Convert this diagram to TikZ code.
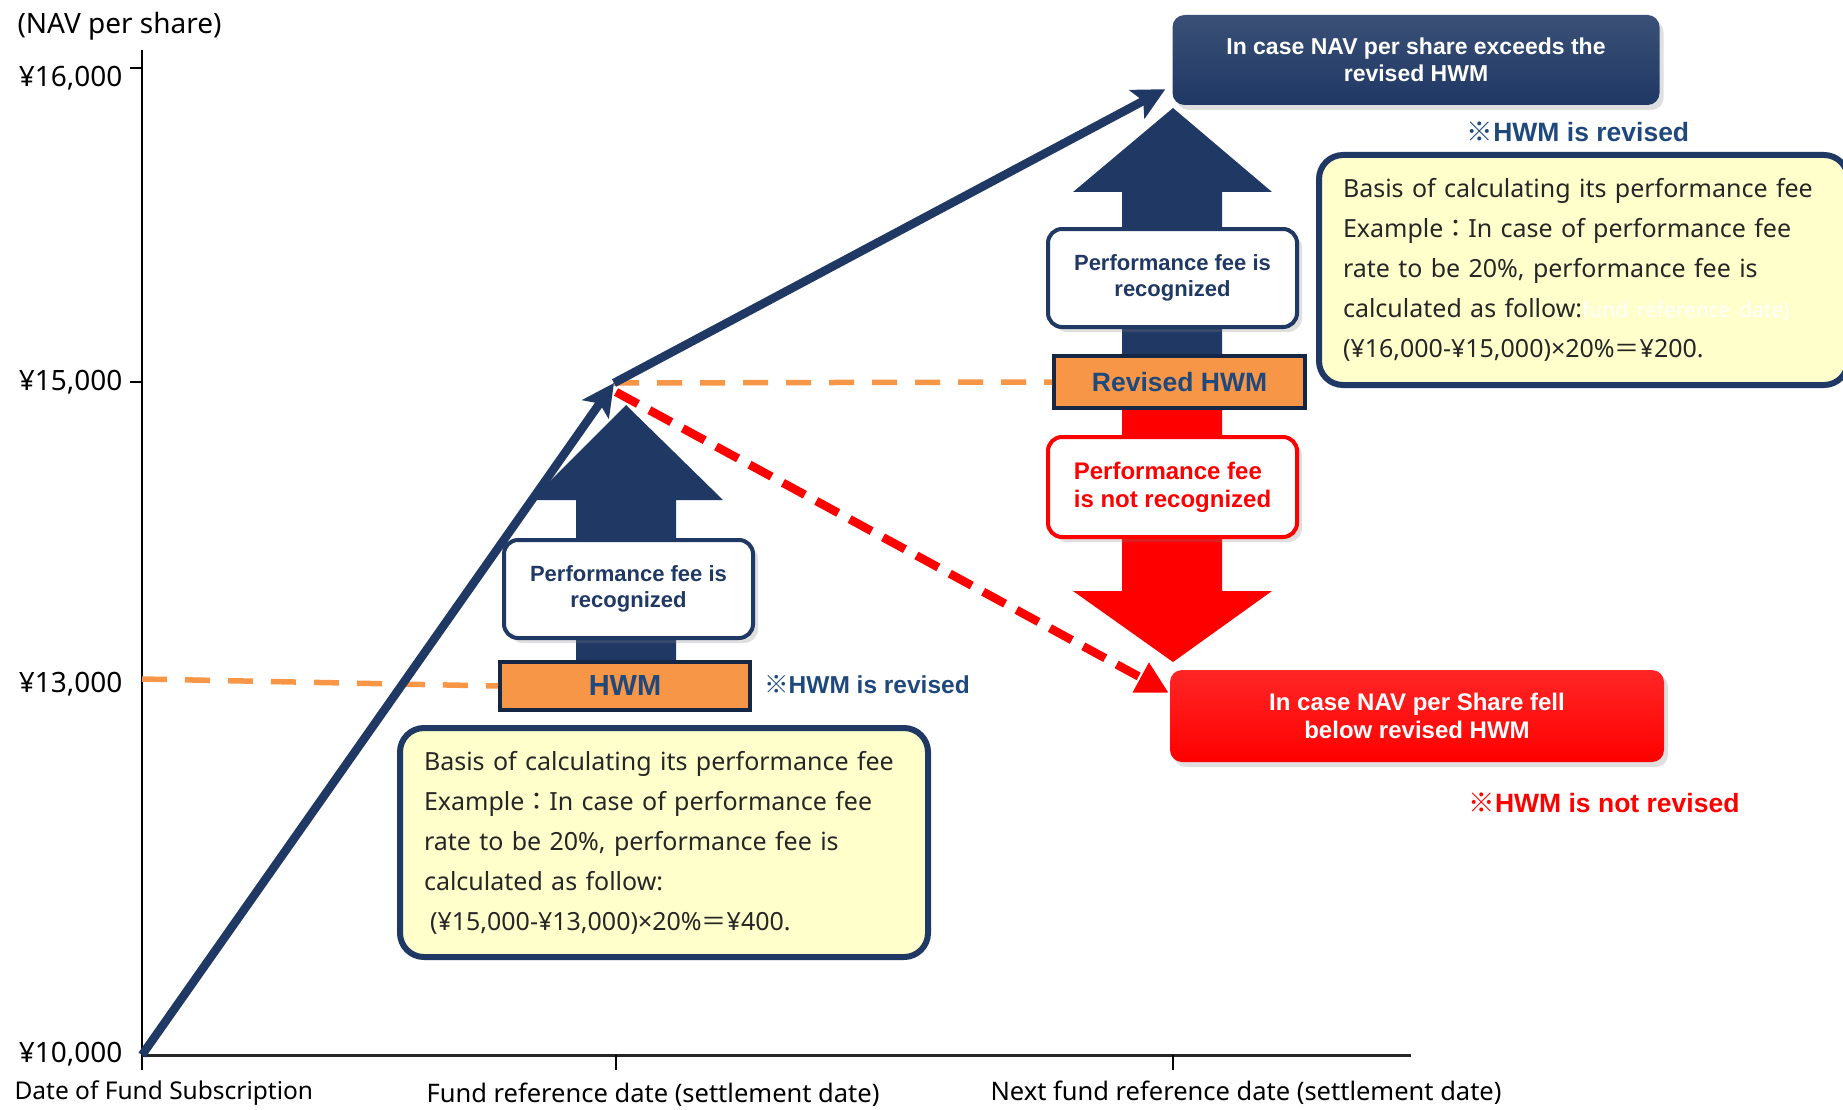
\documentclass[tikz,border=0pt]{standalone}
\usepackage{fontspec}
\setmainfont{Noto Sans}
\newfontfamily\heavy{Liberation Sans}
\newfontfamily\cjk{Noto Sans CJK JP}
\usetikzlibrary{arrows.meta,shadows}

\definecolor{navy}{HTML}{1F3864}
\definecolor{navytext}{HTML}{1F497D}
\definecolor{hwmorange}{HTML}{F79646}
\definecolor{fellred}{HTML}{FF0000}
\definecolor{memoyellow}{HTML}{FFFFCC}

\begin{document}
\begin{tikzpicture}[x=1pt, y=-1pt,
	axislabel/.style={font=\fontsize{28}{32}\selectfont},
	datelabel/.style={font=\fontsize{25.5}{30}\selectfont},
	hwmbox/.style={draw=navy!70!black, line width=4pt, fill=hwmorange, text=navytext, font=\heavy\bfseries\fontsize{29}{30}\selectfont, inner sep=0pt},
	feebox/.style={draw=#1, line width=4pt, fill=white, rounded corners=14pt, text=#1, font=\heavy\bfseries\fontsize{22}{26}\selectfont, minimum width=249pt, minimum height=98pt, inner sep=0pt, drop shadow={shadow xshift=5pt, shadow yshift=-5pt, opacity=0.25}},
	memo/.style={draw=navy, line width=6pt, fill=memoyellow, rounded corners=24pt, align=left, text=black!85, font=\fontsize{25}{40}\selectfont, inner xsep=24pt, inner ysep=0pt, anchor=north west},
	casebox/.style={rounded corners=12pt, text=white, align=center, font=\heavy\bfseries\fontsize{23}{27}\selectfont, inner sep=0pt, drop shadow={shadow xshift=4pt, shadow yshift=-5pt, opacity=0.25}},
	note/.style={font=\heavy\bfseries\fontsize{#1}{30}\selectfont, inner sep=0pt},
	navline/.style={navy, line width=8.5pt, -{Stealth[length=32pt, width=32pt, inset=7pt]}},
	hwmline/.style={hwmorange, line width=5.5pt, dash pattern=on 25pt off 18pt},
]
	\useasboundingbox (0,0) rectangle (1843,1110);

	% axes
	\coordinate (origin) at (142,1055);
	\draw[line width=2pt] (142,50) -- (142,1070);
	\draw[line width=3pt, black!85] (origin) -- (1411,1055);
	\draw[line width=2pt] (616,1055) -- (616,1070);
	\draw[line width=2pt] (1173,1055) -- (1173,1070);
	\draw[line width=2pt] (130,68) -- (142,68);
	\draw[line width=2pt] (130,382) -- (142,382);

	\node[axislabel, anchor=west] (navlabel) at (14,26) {(NAV per share)};
	\node[axislabel, anchor=east] (y16) at (126,78) {¥16,000};
	\node[axislabel, anchor=east] (y15) at (126,382) {¥15,000};
	\node[axislabel, anchor=east] (y13) at (126,684) {¥13,000};
	\node[axislabel, anchor=east] (y10) at (126,1054) {¥10,000};

	\node[datelabel, anchor=west, font=\fontsize{24.5}{30}\selectfont] (subscr) at (11,1093) {Date of Fund Subscription};
	\node[datelabel] (refdate) at (653,1095) {Fund reference date (settlement date)};
	\node[datelabel] (nextdate) at (1246,1093) {Next fund reference date (settlement date)};

	% block arrows
	\fill[navy] (576,662) -- (576,500) -- (531,500) -- (626,405) -- (723,500) -- (676,500) -- (676,662) -- cycle;
	\fill[navy] (1122,356) -- (1122,192) -- (1073,192) -- (1173,108) -- (1272,192) -- (1222,192) -- (1222,356) -- cycle;
	\fill[fellred] (1122,408) -- (1122,591) -- (1073,591) -- (1173,662) -- (1272,591) -- (1222,591) -- (1222,408) -- cycle;

	% HWM boxes
	\node[hwmbox, minimum width=250pt, minimum height=48pt] (hwm) at (625,686) {HWM};
	\node[hwmbox, minimum width=251pt, minimum height=52pt, font=\heavy\bfseries\fontsize{26.5}{30}\selectfont] (revised) at (1179.5,382) {Revised HWM};

	\node[feebox=navy, align=center] (feeleft) at (628.5,589) {Performance fee is\\recognized};
	\node[feebox=navy, align=center] (feeright) at (1172.5,278) {Performance fee is\\recognized};
	\node[feebox=fellred, align=left, minimum height=100pt, font=\heavy\bfseries\fontsize{24}{28}\selectfont] (feenot) at (1172.5,487) {Performance fee\\is not recognized};

	% case boxes
	\node[casebox, top color=navy!88!white, bottom color=navy, minimum width=487pt, minimum height=90pt] (exceed) at (1416,60) {In case NAV per share exceeds the\\revised HWM};
	\node[casebox, top color=fellred!85!white, bottom color=fellred, minimum width=494pt, minimum height=92pt, font=\heavy\bfseries\fontsize{24}{28}\selectfont] (fell) at (1417,716) {In case NAV per Share fell\\below revised HWM};

	\node[note=24.5, text=navytext, anchor=west] (noteleft) at (764,685) {{\cjk\bfseries ※}HWM is revised};
	\node[note=26.5, text=navytext] (noteright) at (1578,132) {{\cjk\bfseries ※}HWM is revised};
	\node[note=26.5, text=fellred] (notenot) at (1604,803) {{\cjk\bfseries ※}HWM is not revised};

	% memo boxes
	\node[memo, minimum width=528pt, minimum height=229pt, text width=480pt] (memoleft) at (397,725) {Basis of calculating its performance fee\\Example{\cjk ：}In case of performance fee\\rate to be 20\%, performance fee is\\calculated as follow:\\\hspace{6pt}(¥15,000-¥13,000)×20\%{\cjk ＝}¥400.};
	\node[memo, minimum width=529pt, minimum height=230pt, text width=481pt] (memoright) at (1316,152) {Basis of calculating its performance fee\\Example{\cjk ：}In case of performance fee\\rate to be 20\%, performance fee is\\calculated as follow:{\fontsize{21}{40}\selectfont\textcolor{white}{fund reference date)}}\\(¥16,000-¥15,000)×20\%{\cjk ＝}¥200.};

	% NAV paths
	\coordinate (peak) at (614,383);
	\draw[hwmline] (142,679) -- (hwm.west);
	\draw[hwmline] (peak) -- (revised.west);
	\draw[navline] (origin) -- (peak);
	\draw[navline] (peak) -- ([shift={(-7,-16)}]exceed.south west);
	\draw[fellred, line width=8.5pt, dash pattern=on 25pt off 13pt, -{Triangle[length=32pt, width=32pt]}] ([shift={(2,9)}]peak) -- ([shift={(-1,23)}]fell.north west);
\end{tikzpicture}
\end{document}
